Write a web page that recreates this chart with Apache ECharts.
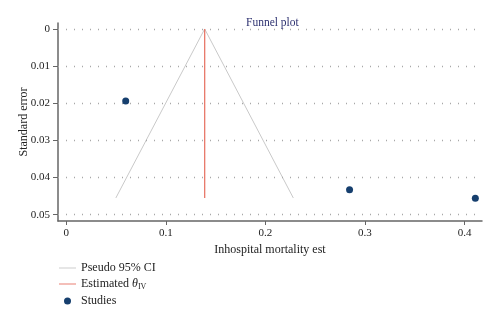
<!DOCTYPE html>
<html>
<head>
<meta charset="utf-8">
<script src="https://cdn.jsdelivr.net/npm/echarts@6/dist/echarts.min.js"></script>
<style>html,body{margin:0;padding:0;background:#fff;}#c{width:500px;height:321px;}</style>
</head>
<body>
<div id="c"></div>
<script>
// Data
var theta = 0.139;
var funnelPoints = [[0.0498, 0.0455], [0.139, 0], [0.228, 0.0455]];
var thetaLine = [[0.139, 0], [0.139, 0.0455]];
var studies = [[0.0597, 0.0194], [0.2845, 0.0433], [0.4108, 0.0456]];
var xTicks = [0, 0.1, 0.2, 0.3, 0.4];
var yTicks = [0, 0.01, 0.02, 0.03, 0.04, 0.05];

var serif = '"Liberation Serif", "DejaVu Serif", serif';
var lineIcon = 'path://M0,0L18,0L18,1L0,1Z';
var chart = echarts.init(document.getElementById('c'));
chart.setOption({
  animation: false,
  title: {
    text: 'Funnel plot', left: 241, top: 12,
    textStyle: {fontFamily: serif, fontSize: 11.5, fontWeight: 'normal', color: '#2d3170'}
  },
  grid: {left: 58, right: 18, top: 23, bottom: 100},
  legend: {
    orient: 'vertical', left: 59, top: 262, padding: 0, itemWidth: 17, itemHeight: 7, itemGap: 4,
    data: [
      {name: 'Pseudo 95% CI', icon: lineIcon},
      {name: 'Estimated θIV', icon: lineIcon},
      {name: 'Studies', icon: 'circle'}
    ],
    formatter: function (n) { return n === 'Estimated θIV' ? 'Estimated {t|θ}{s|IV}' : n; },
    textStyle: {
      fontFamily: serif, fontSize: 12, color: '#222',
      rich: {
        t: {fontFamily: serif, fontStyle: 'italic', fontSize: 12, color: '#222'},
        s: {fontFamily: serif, fontSize: 8, color: '#222', verticalAlign: 'bottom', padding: [6, 0, 0, 0]}
      }
    }
  },
  xAxis: {
    type: 'value', min: -0.0083, max: 0.4175, position: 'bottom',
    name: 'Inhospital mortality est', nameLocation: 'middle', nameGap: 22,
    nameTextStyle: {fontFamily: serif, fontSize: 12, color: '#222'},
    axisLine: {onZero: false, lineStyle: {color: '#666', width: 1.5}},
    axisTick: {show: true, customValues: xTicks, length: 4, lineStyle: {color: '#666'}},
    axisLabel: {customValues: xTicks, margin: 7, fontFamily: serif, fontSize: 11, color: '#222',
      formatter: function (v) { return String(+(+v).toFixed(2)); }},
    splitLine: {show: false}
  },
  yAxis: {
    type: 'value', inverse: true, min: -0.0016, max: 0.0517,
    name: 'Standard error', nameLocation: 'middle', nameGap: 28, nameRotate: 90, nameMoveOverlap: false,
    nameTextStyle: {fontFamily: serif, fontSize: 12, color: '#222'},
    axisLine: {show: true, onZero: false, lineStyle: {color: '#666', width: 1.5}},
    axisTick: {show: true, customValues: yTicks, length: 5, lineStyle: {color: '#666'}},
    axisLabel: {customValues: yTicks, margin: 8, fontFamily: serif, fontSize: 11, color: '#222',
      formatter: function (v) { return String(+(+v).toFixed(2)); }},
    splitLine: {show: false}
  },
  series: [
    {
      name: 'Pseudo 95% CI', type: 'line', data: funnelPoints, symbol: 'none',
      lineStyle: {color: '#c9c9c9', width: 1}, itemStyle: {color: '#c9c9c9'}, z: 3,
      markLine: {
        silent: true, symbol: 'none', label: {show: false},
        lineStyle: {color: '#a8a8a8', type: [1, 7], width: 1.3},
        data: yTicks.map(function (v) { return {yAxis: v}; })
      }
    },
    {
      name: 'Estimated θIV', type: 'line', data: thetaLine, symbol: 'none',
      lineStyle: {color: '#e8786a', width: 1.3}, itemStyle: {color: '#e8786a'}, z: 4
    },
    {
      name: 'Studies', type: 'scatter', data: studies, symbol: 'circle', symbolSize: 7,
      itemStyle: {color: '#163f6e', opacity: 1}, z: 5
    }
  ]
});
</script>
</body>
</html>
